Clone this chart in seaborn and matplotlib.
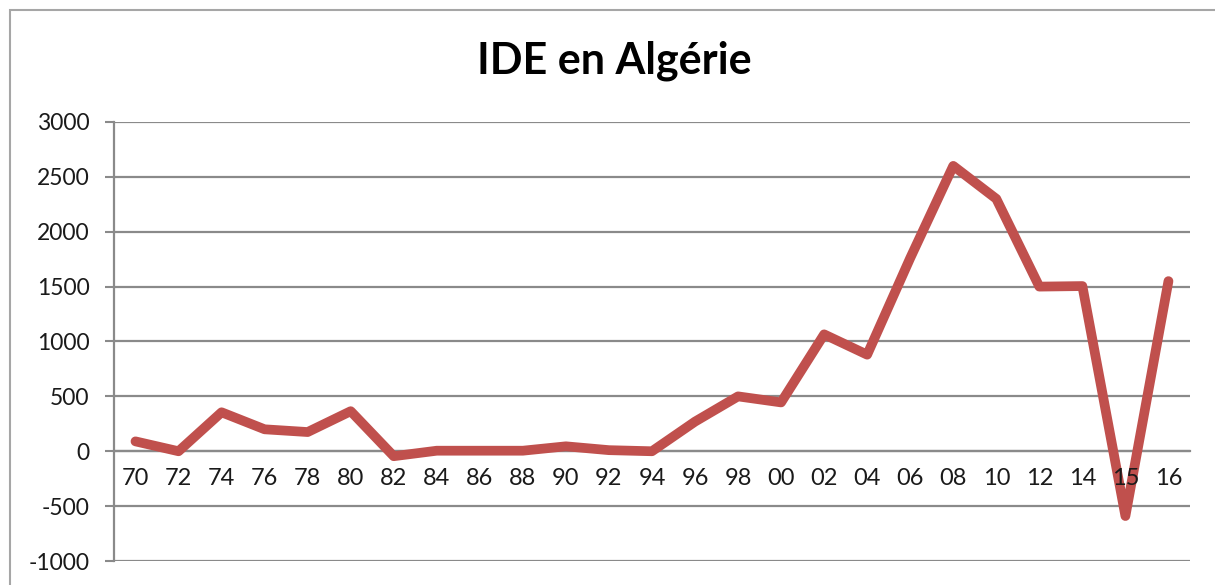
# IDE en Algérie - line chart, Excel look
import numpy as np
import pandas as pd
import matplotlib
matplotlib.use("Agg")
import matplotlib.pyplot as plt
from matplotlib.patches import Rectangle
from matplotlib.ticker import FixedLocator
import seaborn as sns

# data
years = ['70','72','74','76','78','80','82','84','86','88','90','92','94',
         '96','98','00','02','04','06','08','10','12','14','15','16']
ide = [90, 0, 355, 200, 175, 365, -45, 5, 5, 5, 45, 10, 0,
       270, 500, 445, 1065, 880, 1760, 2600, 2300, 1500, 1505, -590, 1550]
yticks = [-1000, -500, 0, 500, 1000, 1500, 2000, 2500, 3000]

sns.set_style("white")
plt.rcParams['font.family'] = ['Lato', 'DejaVu Sans']

grid_col = '#8a8a8a'
line_col = '#c0504d'

df = pd.DataFrame({'annee': years, 'ide': ide})

fig = plt.figure(figsize=(12.15, 5.85), dpi=100)
ax = fig.add_axes([0.0938, 0.041, 0.8856, 0.7505])

sns.lineplot(data=df, x='annee', y='ide', ax=ax, sort=False,
             color=line_col, linewidth=7, solid_joinstyle='round',
             solid_capstyle='round', zorder=3)

ax.set_xlim(-0.5, len(years) - 0.5)
ax.set_ylim(-1000, 3000)
ax.set_yticks(yticks)
ax.set_yticklabels([str(v) for v in yticks])
ax.set_xlabel('')
ax.set_ylabel('')

ax.yaxis.grid(True, color=grid_col, linewidth=1.6)
ax.xaxis.grid(False)
ax.set_axisbelow(True)

for s in ['top', 'right']:
    ax.spines[s].set_visible(False)
ax.spines['bottom'].set_position(('data', 0))
ax.spines['bottom'].set_color(grid_col)
ax.spines['bottom'].set_linewidth(1.6)
ax.spines['left'].set_color(grid_col)
ax.spines['left'].set_linewidth(1.6)
ax.spines['bottom'].set_zorder(0.5)

ax.xaxis.set_minor_locator(FixedLocator(np.arange(-0.5, len(years), 1.0)))
ax.tick_params(axis='x', which='major', length=0, pad=12, labelsize=17, labelcolor='#1a1a1a')
ax.tick_params(axis='x', which='minor', length=6, width=1.5, color=grid_col, direction='out')
ax.tick_params(axis='y', which='major', length=6.5, width=1.5, color=grid_col, pad=11,
               labelsize=16.5, labelcolor='#1a1a1a', left=True)
# category labels sit on top of the line (the "15" label shows through)
ax.xaxis.set_zorder(4)

fig.text(0.506, 0.897, 'IDE en Algérie', ha='center', va='center',
         fontsize=31, fontweight='bold', color='black')

# chart outer border (cropped at right and bottom)
fig.patches.append(Rectangle((10 / 1215, -0.1), 1.2, 1.1 - 10 / 585,
                             transform=fig.transFigure, fill=False,
                             edgecolor='#a6a6a6', linewidth=1.5))

fig.savefig('out.png', dpi=100)
